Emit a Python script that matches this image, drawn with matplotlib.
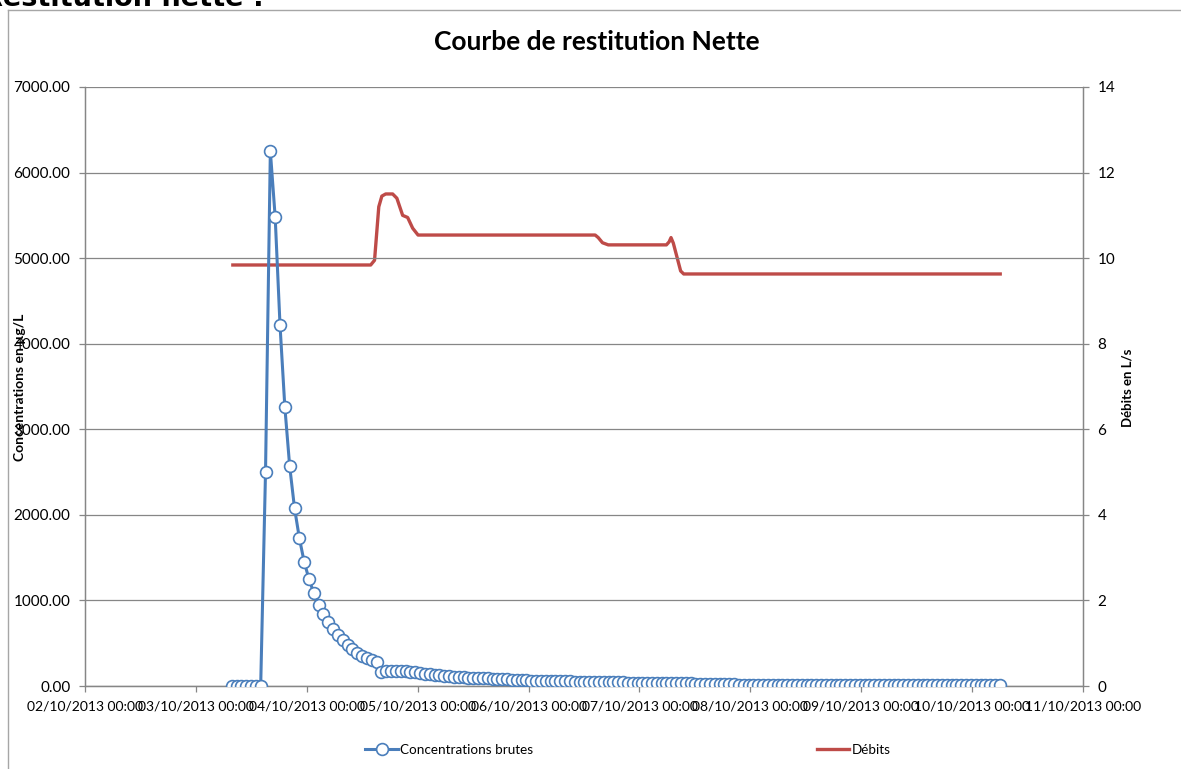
import pandas as pd
import matplotlib
matplotlib.use("Agg")
import matplotlib.pyplot as plt
import matplotlib.dates as mdates
from matplotlib.lines import Line2D
from matplotlib.ticker import FormatStrFormatter, MultipleLocator

plt.rcParams['font.family'] = ['Lato', 'DejaVu Sans']

# concentrations brutes (µg/L), one sample roughly every hour
conc_start = "2013-10-03 07:45"
conc_end = "2013-10-10 06:00"
concentrations = [
    0, 0, 0, 0, 0, 0, 0,
    2500, 6250, 5480, 4220, 3260, 2570, 2080, 1730, 1450, 1250,
    1085, 950, 845, 750, 670, 600, 537, 480, 432, 390,
    354, 327, 304, 277,
    160, 172, 176, 176, 174, 170, 165, 158, 150, 143,
    136, 130, 124, 118, 113, 109, 105, 101, 98, 95,
    92, 90, 88, 86, 83, 80, 77, 74, 71, 68,
    66, 64, 62, 60, 58, 57, 56, 55, 54, 53,
    51, 50, 49, 48, 47, 46, 45, 44, 43, 42,
    41, 40, 40, 39, 38, 38, 37, 36, 36, 35,
    35, 34, 34, 33, 33,
    20, 20, 19, 19, 19, 18, 18, 18, 18, 17,
    17, 17, 17, 16, 16, 16, 16, 16, 15, 15,
    15, 15, 15, 14, 14, 14, 14, 14, 14, 13,
    13, 13, 13, 13, 13, 12, 12, 12, 12, 12,
    12, 12, 11, 11, 11, 11, 11, 11, 11, 10,
    10, 10, 10, 10, 10, 10, 10, 10, 10, 10,
    10, 10, 10, 10,
]

# débits (L/s)
debit_times = [
    "2013-10-03 08:00", "2013-10-04 13:50", "2013-10-04 14:40", "2013-10-04 15:35",
    "2013-10-04 16:15", "2013-10-04 17:05", "2013-10-04 18:35", "2013-10-04 19:30",
    "2013-10-04 20:45", "2013-10-04 21:50", "2013-10-04 22:55", "2013-10-05 00:05",
    "2013-10-06 14:25", "2013-10-06 15:05", "2013-10-06 16:00", "2013-10-06 17:15",
    "2013-10-07 05:50", "2013-10-07 06:25", "2013-10-07 06:50", "2013-10-07 07:20",
    "2013-10-07 08:55", "2013-10-07 09:35", "2013-10-10 06:05",
]
debits = [
    9.84, 9.84, 9.95, 11.2,
    11.45, 11.5, 11.5, 11.4,
    11.0, 10.95, 10.7, 10.54,
    10.54, 10.48, 10.36, 10.31,
    10.31, 10.38, 10.48, 10.35,
    9.7, 9.63, 9.63,
]

conc_times = pd.date_range(conc_start, conc_end, periods=len(concentrations))
debit_times = pd.to_datetime(debit_times)

W, H = 1181, 769
fig = plt.figure(figsize=(W / 100, H / 100), dpi=100)
ax = fig.add_axes([85 / W, 1 - 686 / H, (1083 - 85) / W, (686 - 87) / H])
ax2 = ax.twinx()

grey = '#868686'
blue = '#4a7ebb'
red = '#be4b48'

ax.plot(conc_times, concentrations, color=blue, lw=2.2, marker='o', ms=8.5,
        mfc='white', mec=blue, mew=1.2, label='Concentrations brutes', zorder=3)
ax2.plot(debit_times, debits, color=red, lw=2.4, label='Débits',
         solid_joinstyle='round')

ax.set_zorder(ax2.get_zorder() + 1)
ax.patch.set_visible(False)

ax.set_xlim(pd.Timestamp("2013-10-02"), pd.Timestamp("2013-10-11"))
ax.set_ylim(0, 7000)
ax2.set_ylim(0, 14)
ax.yaxis.set_major_locator(MultipleLocator(1000))
ax.yaxis.set_major_formatter(FormatStrFormatter('%.2f'))
ax2.yaxis.set_major_locator(MultipleLocator(2))
ax.xaxis.set_major_locator(mdates.DayLocator())
ax.xaxis.set_major_formatter(mdates.DateFormatter('%d/%m/%Y %H:%M'))

ax.grid(axis='y', color=grey, lw=0.9)
ax.set_axisbelow(True)

for a in (ax, ax2):
    a.spines['top'].set_visible(False)
    for side in ('left', 'right', 'bottom'):
        a.spines[side].set_color(grey)
        a.spines[side].set_linewidth(0.9)
    a.tick_params(colors=grey, labelcolor='black', labelsize=10, length=4.5, width=0.9)
ax.tick_params(axis='y', pad=6, labelsize=11)
ax.tick_params(axis='x', pad=6)
ax2.tick_params(axis='y', pad=6, labelsize=11)

fig.text(597 / W, 1 - 42 / H, 'Courbe de restitution Nette', ha='center', va='center',
         fontsize=19, fontweight='bold')
fig.text(20 / W, 1 - 387 / H, 'Concentrations en µg/L', rotation=90, ha='center',
         va='center', fontsize=10, fontweight='bold')
fig.text(1127 / W, 1 - 388 / H, 'Débits en L/s', rotation=90, ha='center',
         va='center', fontsize=9.5, fontweight='bold')

# heading of the document, cut off by the screenshot
fig.text(-18 / W, 1 - 6 / H, 'Restitution nette :', ha='left', va='baseline',
         fontsize=19.5, fontweight='bold', family='DejaVu Sans')

# chart area border
fig.add_artist(Line2D([8 / W, 8 / W], [0, 1 - 10 / H], transform=fig.transFigure,
                      color='#a6a6a6', lw=1))
fig.add_artist(Line2D([8 / W, 1], [1 - 10 / H, 1 - 10 / H], transform=fig.transFigure,
                      color='#a6a6a6', lw=1))

h1, l1 = ax.get_legend_handles_labels()
h2, l2 = ax2.get_legend_handles_labels()
fig.legend(h1 + h2, l1 + l2, loc='center', bbox_to_anchor=(628 / W, 1 - 750 / H),
           ncol=2, frameon=False, columnspacing=21, handlelength=2.4,
           handletextpad=0.2, fontsize=9.7)

fig.savefig('out.png', dpi=100)
